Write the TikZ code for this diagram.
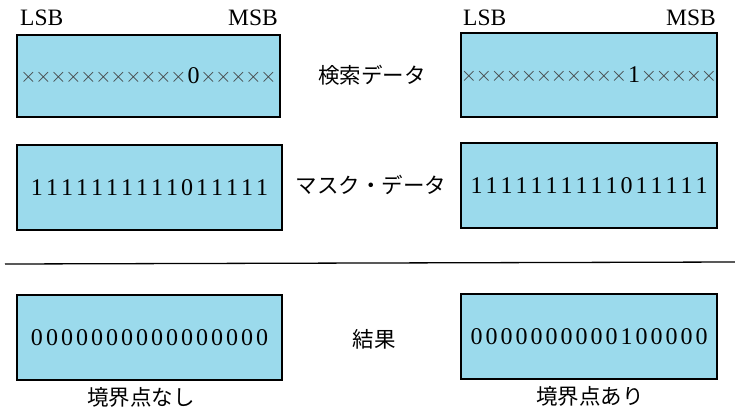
\documentclass[tikz,border=0pt]{standalone}
\usepackage{fontspec}
\setmainfont{Liberation Serif}
\newfontfamily\jp{Noto Sans CJK JP}
\makeatletter
\newcommand\bitrow[1]{\@tfor\bt:=#1\do{\makebox[15pt]{\bt}}}
\makeatother
\newcommand\X{\raisebox{1pt}{\fontsize{20}{20}\selectfont\color{black!75}$\times$}}
\definecolor{regfill}{RGB}{155,218,236}
\begin{document}
\begin{tikzpicture}[x=1pt,y=-1pt,
  reg/.style={draw=black, line width=2.4pt, fill=regfill, inner sep=0pt,
    font=\fontsize{24}{28}\selectfont},
  lbl/.style={font=\fontsize{23.5}{26}\selectfont, inner sep=0pt},
  jlbl/.style={font=\jp\fontsize{21.5}{24}\selectfont, inner sep=0pt}]
\useasboundingbox (0,0) rectangle (735,413);
% top row: search data
\node[reg, minimum width=263pt, minimum height=82pt] (s1) at (148.5,76)
  {\bitrow{\X\X\X\X\X\X\X\X\X\X\X0\X\X\X\X\X}};
\node[reg, minimum width=256pt, minimum height=84pt] (s2) at (589,75)
  {\bitrow{\X\X\X\X\X\X\X\X\X\X\X1\X\X\X\X\X}};
% mask data
\node[reg, minimum width=265pt, minimum height=85pt] (m1) at (149.5,187.5)
  {\bitrow{1111111111011111}};
\node[reg, minimum width=256pt, minimum height=85pt] (m2) at (589,185.5)
  {\bitrow{1111111111011111}};
% results
\node[reg, minimum width=265pt, minimum height=85pt] (r1) at (149.5,337.5)
  {\bitrow{0000000000000000}};
\node[reg, minimum width=256pt, minimum height=85pt] (r2) at (589,336.5)
  {\bitrow{0000000000100000}};
% LSB / MSB
\node[lbl, anchor=west] (lsb1) at (20,18) {LSB};
\node[lbl, anchor=east] (msb1) at (278,18) {MSB};
\node[lbl, anchor=west] (lsb2) at (463,18) {LSB};
\node[lbl, anchor=east] (msb2) at (716,18) {MSB};
% middle labels
\node[jlbl] (t1) at (372,75) {検索データ};
\node[jlbl] (t2) at (371,185) {マスク・データ};
\node[jlbl] (t3) at (374,339) {結果};
% bottom labels
\node[jlbl] (b1) at (141,397) {境界点なし};
\node[jlbl] (b2) at (590,396) {境界点あり};
% separator
\coordinate (hl) at (5,264);
\coordinate (hr) at (735,262);
\draw[line width=1.3pt] (hl) -- (hr);
\end{tikzpicture}
\end{document}
